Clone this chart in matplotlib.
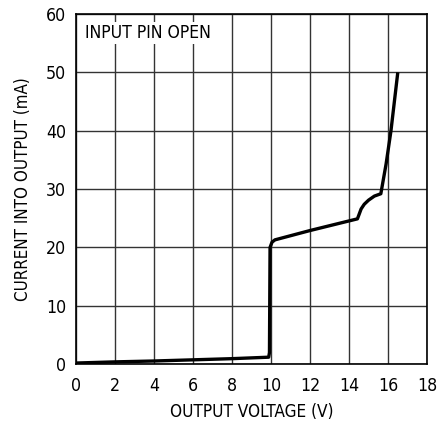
import numpy as np
import matplotlib.pyplot as plt

# Output current vs output voltage, input pin open
volts = [0.0, 2.0, 4.0, 6.0, 8.0, 9.88, 9.92, 9.95, 10.05, 10.2, 12.0, 14.43,
         14.52, 14.62, 14.78, 15.0, 15.3, 15.63, 15.9, 16.15, 16.5]
current = [0.2, 0.4, 0.55, 0.75, 0.95, 1.2, 2.0, 20.0, 20.9, 21.3, 22.9, 24.9,
           25.7, 26.6, 27.4, 28.1, 28.8, 29.2, 34.3, 40.0, 50.0]

xticks = np.arange(0, 19, 2)
yticks = np.arange(0, 61, 10)

plt.rc('font', family=['Liberation Sans Narrow', 'DejaVu Sans'])
plt.rc('font', stretch='condensed')
plt.rc('font', size=12)

fig = plt.figure(figsize=(4.38, 4.23), dpi=100)
ax = fig.add_axes([0.1735, 0.139, 0.8015, 0.828])

ax.plot(volts, current, color='black', linewidth=2.4, solid_joinstyle='round',
        solid_capstyle='butt', zorder=3)

ax.set_xlim(0, 18)
ax.set_ylim(0, 60)
ax.set_xticks(xticks)
ax.set_yticks(yticks)
ax.grid(True, color='#333333', linewidth=1.0)
ax.tick_params(axis='x', length=0, pad=9, labelsize=12.7)
ax.tick_params(axis='y', length=0, pad=7, labelsize=12.7)
for s in ax.spines.values():
    s.set_linewidth(1.2)

ax.set_xlabel('OUTPUT VOLTAGE (V)', fontsize=12.3, labelpad=6)
ax.set_ylabel('CURRENT INTO OUTPUT (mA)', fontsize=12.2, labelpad=10)
ax.text(0.45, 56.8, 'INPUT PIN OPEN', fontsize=12.6, va='center', ha='left',
        bbox=dict(facecolor='white', edgecolor='none', pad=1.5))

fig.savefig('out.png', dpi=100)
